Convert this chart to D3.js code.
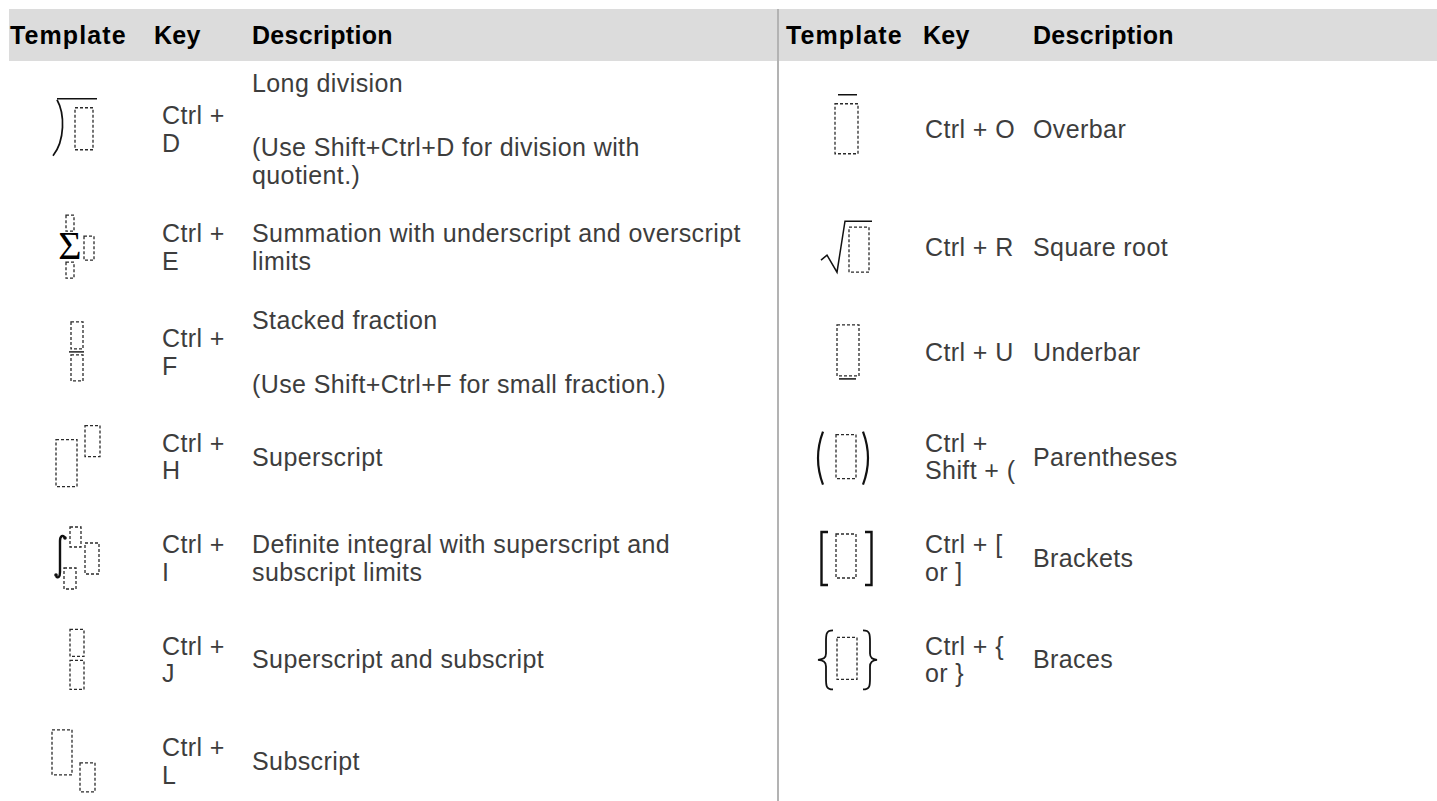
<!DOCTYPE html>
<html>
<head>
<meta charset="utf-8">
<script src="https://cdn.jsdelivr.net/npm/d3@7"></script>
<style>
  html, body { margin: 0; padding: 0; background: #ffffff; }
  svg { display: block; }
</style>
</head>
<body>
<svg id="chart" width="1437" height="801"></svg>
<script>
// ---------------- DATA ----------------
const headers = ["Template", "Key", "Description"];

const leftTemplates = ["longdiv", "sum", "frac", "sup", "integral", "supsub", "sub"];
const leftKeys = [
  ["Ctrl +", "D"], ["Ctrl +", "E"], ["Ctrl +", "F"], ["Ctrl +", "H"],
  ["Ctrl +", "I"], ["Ctrl +", "J"], ["Ctrl +", "L"]
];
const leftDescs = [
  [["Long division"], ["(Use Shift+Ctrl+D for division with", "quotient.)"]],
  [["Summation with underscript and overscript", "limits"]],
  [["Stacked fraction"], ["(Use Shift+Ctrl+F for small fraction.)"]],
  [["Superscript"]],
  [["Definite integral with superscript and", "subscript limits"]],
  [["Superscript and subscript"]],
  [["Subscript"]]
];

const rightTemplates = ["overbar", "sqrt", "underbar", "paren", "bracket", "brace"];
const rightKeys = [
  ["Ctrl + O"], ["Ctrl + R"], ["Ctrl + U"],
  ["Ctrl +", "Shift + ("], ["Ctrl + [", "or ]"], ["Ctrl + {", "or }"]
];
const rightDescs = [
  [["Overbar"]], [["Square root"]], [["Underbar"]],
  [["Parentheses"]], [["Brackets"]], [["Braces"]]
];

// ---------------- LAYOUT ----------------
const W = 1437, H = 801;
const headTop = 9, headBottom = 61;
const fontSize = 25, lineH = 27.5, paraGap = 37, capHalf = 9;
const rowPad = 16, minRow = 101.4;
const dividerX = 778;

const colX = {
  left:  { template: 10,  key: 154, desc: 252, iconC: 76,  keyBody: 162 },
  right: { template: 786, key: 923, desc: 1033, iconC: 847, keyBody: 925 }
};

const svg = d3.select("#chart");

function descHeight(paras) {
  if (!paras) return 0;
  const lines = d3.sum(paras, p => p.length);
  return lines * lineH + (paras.length - 1) * paraGap;
}

const nRows = Math.max(leftTemplates.length, rightTemplates.length);
const rowHeights = d3.range(nRows).map(i => {
  const c = Math.max(
    descHeight(leftDescs[i]), (leftKeys[i] || []).length * lineH,
    descHeight(rightDescs[i]), (rightKeys[i] || []).length * lineH);
  return Math.max(minRow, c + rowPad);
});
const rowTops = rowHeights.map((h, i) => headBottom + d3.sum(rowHeights.slice(0, i)));
const rowY = d3.scaleOrdinal().domain(d3.range(nRows)).range(rowTops.map((t, i) => t + rowHeights[i] / 2));

// header band
svg.append("rect")
  .attr("x", 9).attr("y", headTop)
  .attr("width", W - 9).attr("height", headBottom - headTop)
  .attr("fill", "#dcdcdc");

// divider
svg.append("line")
  .attr("x1", dividerX).attr("x2", dividerX)
  .attr("y1", headTop).attr("y2", H)
  .attr("stroke", "#b3b3b3").attr("stroke-width", 2);

const font = "'Liberation Sans', Arial, Helvetica, sans-serif";

// header texts
["left", "right"].forEach(side => {
  const cx = colX[side];
  [cx.template, cx.key, cx.desc].forEach((x, j) => {
    svg.append("text")
      .attr("x", x).attr("y", (headTop + headBottom) / 2 + capHalf)
      .attr("font-family", font).attr("font-size", fontSize).attr("font-weight", "bold")
      .attr("letter-spacing", j === 0 ? 1.1 : 0.3)
      .attr("fill", "#000").text(headers[j]);
  });
});

// body texts
function drawLines(x, cy, lines) {
  lines.forEach(l => {
    svg.append("text")
      .attr("x", x).attr("y", cy + l.off + capHalf)
      .attr("font-family", font).attr("font-size", fontSize)
      .attr("letter-spacing", 0.4)
      .attr("fill", "#3d3d3d").text(l.t);
  });
}
function keyLines(key) {
  return key.map((t, i) => ({ t, off: (i - (key.length - 1) / 2) * lineH }));
}
function descLines(paras) {
  const total = descHeight(paras);
  let y = -total / 2 + lineH / 2;
  const out = [];
  paras.forEach(p => {
    p.forEach(t => { out.push({ t, off: y }); y += lineH; });
    y += paraGap;
  });
  return out;
}

function drawSide(side, templates, keys, descs) {
  const cx = colX[side];
  templates.forEach((tp, i) => {
    const cy = rowY(i);
    drawLines(cx.keyBody, cy, keyLines(keys[i]));
    drawLines(cx.desc, cy, descLines(descs[i]));
    drawIcon(tp, cx.iconC, cy);
  });
}

// ---------------- ICONS ----------------
const dashStroke = "#2a2a2a";
function box(g, x0, y0, x1, y1) {
  g.append("rect").attr("x", x0).attr("y", y0)
    .attr("width", x1 - x0).attr("height", y1 - y0)
    .attr("fill", "none").attr("stroke", dashStroke)
    .attr("stroke-width", 1.3).attr("stroke-dasharray", "3,2");
}
function path(g, d, w) {
  g.append("path").attr("d", d).attr("fill", "none")
    .attr("stroke", "#111").attr("stroke-width", w || 1.6)
    .attr("stroke-linecap", "butt");
}
function drawIcon(type, cx, cy) {
  const g = svg.append("g").attr("transform", `translate(${cx},${cy})`);
  switch (type) {
    case "longdiv":
      path(g, "M-19,-30 H21", 1.6);
      path(g, "M-19,-29 C-11,-15 -11,12 -23,27", 1.7);
      box(g, -1, -21, 17, 21);
      break;
    case "sum":
      g.append("text").attr("x", -6).attr("y", 12).attr("text-anchor", "middle")
        .attr("font-family", "'Liberation Serif', 'Times New Roman', serif")
        .attr("font-size", 40).attr("fill", "#000").text("Σ");
      box(g, -10, -32, -2, -16);
      box(g, -10, 15, -2, 31);
      box(g, 8, -11, 18, 13);
      break;
    case "frac":
      box(g, -5, -30, 7, -3);
      path(g, "M-7,0 H8", 1.4);
      box(g, -5, 3, 7, 29);
      break;
    case "sup":
      box(g, -20, -17, 1, 30);
      box(g, 9, -31, 24, 0);
      break;
    case "integral":
      path(g, "M-11,-20 C-13,-24 -16,-22 -16,-17 L-16,14 C-16,19 -18,21 -20,18", 2.4);
      g.append("circle").attr("cx", -11).attr("cy", -20).attr("r", 1.8).attr("fill", "#111");
      g.append("circle").attr("cx", -20).attr("cy", 17).attr("r", 1.8).attr("fill", "#111");
      box(g, -6, -31, 5, -11);
      box(g, 9, -15, 23, 16);
      box(g, -12, 10, 0, 31);
      break;
    case "supsub":
      box(g, -6, -30, 8, -3);
      box(g, -6, 1, 8, 30);
      break;
    case "sub":
      box(g, -24, -31, -4, 14);
      box(g, 4, 2, 19, 31);
      break;
    case "overbar":
      path(g, "M-9,-34 H10", 1.5);
      box(g, -12, -25, 11, 25);
      break;
    case "sqrt":
      path(g, "M-26,13 L-20,8 L-10,25 L-2,-26 H25", 1.5);
      box(g, 2, -20, 22, 25);
      break;
    case "underbar":
      box(g, -10, -27, 12, 24);
      path(g, "M-8,27 H9", 1.5);
      break;
    case "paren":
      path(g, "M-24,-25 Q-34,1.5 -24,28", 2.2);
      path(g, "M16,-25 Q26,1.5 16,28", 2.2);
      box(g, -11, -22, 9, 22);
      break;
    case "bracket":
      path(g, "M-19,-26 H-25.5 V27 H-19", 2.4);
      path(g, "M18,-26 H24.5 V27 H18", 2.4);
      box(g, -11, -24, 9, 20);
      break;
    case "brace":
      path(g, "M-14,-29 C-21,-29 -21,-25 -21,-18 L-21,-6 C-21,-1 -24,0 -29,0.5 C-24,1 -21,2 -21,7 L-21,19 C-21,26 -21,30 -14,30", 1.8);
      path(g, "M16,-29 C23,-29 23,-25 23,-18 L23,-6 C23,-1 26,0 30,0.5 C26,1 23,2 23,7 L23,19 C23,26 23,30 16,30", 1.8);
      box(g, -10, -22, 10, 20);
      break;
  }
}

drawSide("left", leftTemplates, leftKeys, leftDescs);
drawSide("right", rightTemplates, rightKeys, rightDescs);
</script>
</body>
</html>
